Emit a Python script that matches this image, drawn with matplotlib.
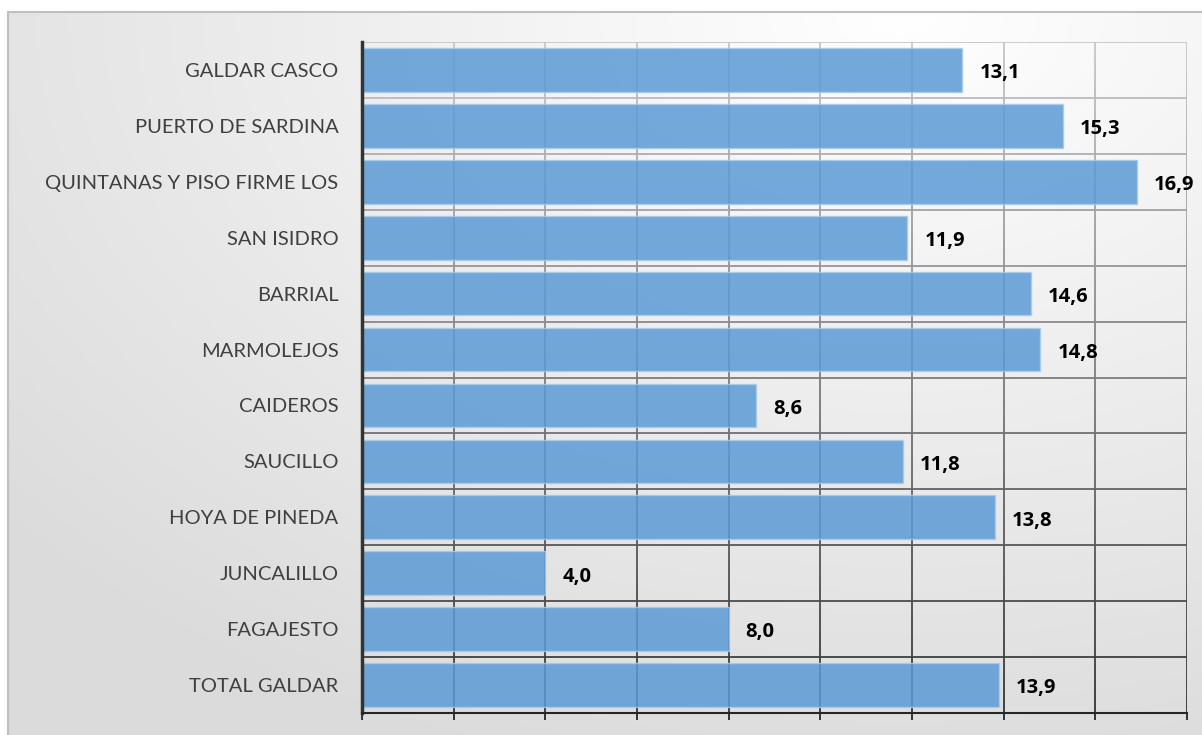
import numpy as np
import matplotlib
matplotlib.use("Agg")
import matplotlib.pyplot as plt
from matplotlib.collections import LineCollection

categories = ["GALDAR CASCO", "PUERTO DE SARDINA", "QUINTANAS Y PISO FIRME LOS",
              "SAN ISIDRO", "BARRIAL", "MARMOLEJOS", "CAIDEROS", "SAUCILLO",
              "HOYA DE PINEDA", "JUNCALILLO", "FAGAJESTO", "TOTAL GALDAR"]
values = [13.1, 15.3, 16.9, 11.9, 14.6, 14.8, 8.6, 11.8, 13.8, 4.0, 8.0, 13.9]
labels = ["13,1", "15,3", "16,9", "11,9", "14,6", "14,8", "8,6", "11,8",
          "13,8", "4,0", "8,0", "13,9"]

W, H = 1202, 735
fig = plt.figure(figsize=(W / 100, H / 100), dpi=100)
fig.patch.set_facecolor("white")

# background panel with soft gradient
bg = fig.add_axes([8 / W, 0, 1 - 8 / W, 1 - 12 / H])
bg.set_xlim(0, 1)
bg.set_ylim(0, 1)
gx, gy = np.meshgrid(np.linspace(0, 1, 300), np.linspace(0, 1, 200))
d = np.sqrt(((gx - 0.75) / 1.0) ** 2 + ((gy - 1.0) / 1.1) ** 2)
shade = np.clip(1.0 - 0.14 * d, 0.86, 1.0)
bg.imshow(np.dstack([shade, shade, shade]), extent=[0, 1, 0, 1], origin="lower", aspect="auto")
bg.set_xticks([])
bg.set_yticks([])
for s in ["right", "bottom"]:
    bg.spines[s].set_visible(False)
for s in ["left", "top"]:
    bg.spines[s].set_color("#bfbfbf")
    bg.spines[s].set_linewidth(1.5)

ax = fig.add_axes([362 / W, 1 - 713 / H, (1187 - 362) / W, (713 - 42) / H])
ax.patch.set_alpha(0)
n = len(categories)
ax.set_xlim(0, 18)
ax.set_ylim(n - 0.5, -0.5)


def gcol(y):
    t = (y + 0.5) / n
    c = 0.78 - 0.58 * t
    return (c, c, c)


# gridlines, light at top and darker towards the bottom
segs, cols = [], []
ys = np.linspace(-0.5, n - 0.5, 240)
for xv in np.arange(2, 19, 2):
    for a, b in zip(ys[:-1], ys[1:]):
        segs.append([(xv, a), (xv, b)])
        cols.append(gcol((a + b) / 2))
for yb in np.arange(-0.5, n - 0.5, 1.0):
    segs.append([(0, yb), (18, yb)])
    cols.append(gcol(yb))
ax.add_collection(LineCollection(segs, colors=cols, linewidths=1.3, zorder=1))

ypos = np.arange(n)
ax.barh(ypos, values, height=0.78, color="#5b9bd5", alpha=0.85,
        edgecolor="#a9cbe9", linewidth=1, zorder=2)

for y, v, lab in zip(ypos, values, labels):
    ax.text(v + 0.37, y + 0.06, lab, va="center", ha="left", fontsize=14.5,
            fontweight="bold", family="Open Sans", color="black", zorder=3)

ax.set_yticks(ypos)
ax.set_yticklabels(categories, fontsize=14.5, family="Lato", color="#404040")
ax.tick_params(axis="y", length=0, pad=17)
ax.set_xticks(np.arange(0, 19, 2))
ax.set_xticklabels([])
ax.tick_params(axis="x", length=5, width=1.3, color="#262626", direction="out")

for s in ["top", "right"]:
    ax.spines[s].set_visible(False)
ax.spines["left"].set_color("#333333")
ax.spines["left"].set_linewidth(2.5)
ax.spines["bottom"].set_color("#262626")
ax.spines["bottom"].set_linewidth(1.5)

fig.savefig("out.png", dpi=100)
